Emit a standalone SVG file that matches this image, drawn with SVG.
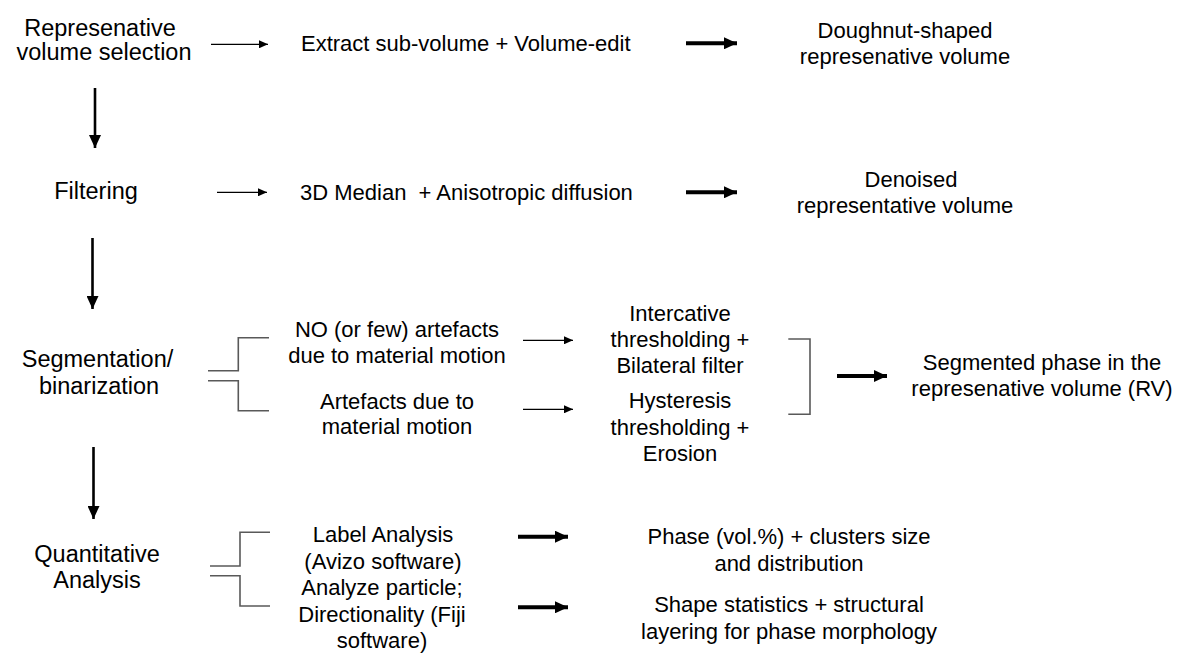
<svg xmlns="http://www.w3.org/2000/svg" width="1177" height="659" viewBox="0 0 1177 659">
<style>
text{font-family:"Liberation Sans",Arial,sans-serif;fill:#000;white-space:pre}
.l{font-size:23.5px;text-anchor:middle}
.t{font-size:22px;text-anchor:middle}
.s{font-size:22px}
.thin{stroke:#000;stroke-width:1.2;fill:none;marker-end:url(#hs)}
.thick{stroke:#000;stroke-width:4;fill:none;marker-end:url(#hb)}
.down{stroke:#000;stroke-width:2.6;fill:none;marker-end:url(#hd)}
.br{stroke:#595959;stroke-width:1.6;fill:none}
</style>
<defs>
<marker id="hs" markerUnits="userSpaceOnUse" markerWidth="10" markerHeight="8" refX="9" refY="4" orient="auto"><path d="M0,0 L9,4 L0,8 z" fill="#000"/></marker>
<marker id="hb" markerUnits="userSpaceOnUse" markerWidth="14" markerHeight="12" refX="13" refY="6" orient="auto"><path d="M0,0 L13,6 L0,12 z" fill="#000"/></marker>
<marker id="hd" markerUnits="userSpaceOnUse" markerWidth="14" markerHeight="12" refX="13" refY="6" orient="auto"><path d="M0,0 L13,6 L0,12 z" fill="#000"/></marker>
</defs>
<rect width="1177" height="659" fill="#fff"/>
<g id="step-rv"><text class="l" x="100" y="35.5">Represenative</text><text class="l" x="104" y="60">volume selection</text></g>
<g id="step-filter"><text class="l" x="96" y="199">Filtering</text></g>
<g id="step-seg"><text class="l" x="97.5" y="367">Segmentation/</text><text class="l" x="99" y="394">binarization</text></g>
<g id="step-quant"><text class="l" x="97" y="562">Quantitative</text><text class="l" x="97" y="588">Analysis</text></g>
<g id="extract"><text class="s" x="301" y="50.5">Extract sub-volume + Volume-edit</text></g>
<g id="doughnut"><text class="t" x="905" y="38">Doughnut-shaped</text><text class="t" x="905" y="64">represenative volume</text></g>
<g id="median"><text class="s" x="300" y="200">3D Median  + Anisotropic diffusion</text></g>
<g id="denoised"><text class="t" x="911" y="187">Denoised</text><text class="t" x="905" y="213">representative volume</text></g>
<g id="no-artefacts"><text class="t" x="397" y="337">NO (or few) artefacts</text><text class="t" x="397" y="363">due to material motion</text></g>
<g id="artefacts"><text class="t" x="397" y="408.5">Artefacts due to</text><text class="t" x="397" y="434">material motion</text></g>
<g id="interactive"><text class="t" x="680" y="321">Intercative</text><text class="t" x="680" y="347">thresholding +</text><text class="t" x="680" y="373">Bilateral filter</text></g>
<g id="hysteresis"><text class="t" x="680" y="408">Hysteresis</text><text class="t" x="680" y="434.5">thresholding +</text><text class="t" x="680" y="460.5">Erosion</text></g>
<g id="segmented"><text class="t" x="1042" y="369.5">Segmented phase in the</text><text class="t" x="1042" y="396">represenative volume (RV)</text></g>
<g id="label-analysis"><text class="t" x="383" y="542">Label Analysis</text><text class="t" x="383" y="569">(Avizo software)</text></g>
<g id="analyze-particle"><text class="t" x="382" y="595">Analyze particle;</text><text class="t" x="382" y="622">Directionality (Fiji</text><text class="t" x="382" y="648">software)</text></g>
<g id="phase"><text class="t" x="789" y="543.5">Phase (vol.%) + clusters size</text><text class="t" x="789" y="570.5">and distribution</text></g>
<g id="shape"><text class="t" x="789" y="612">Shape statistics + structural</text><text class="t" x="789" y="638.5">layering for phase morphology</text></g>
<g id="connectors">
<line class="down" x1="95" y1="88" x2="95" y2="148"/>
<line class="down" x1="92.5" y1="238" x2="92.5" y2="309"/>
<line class="down" x1="93.5" y1="447" x2="93.5" y2="519"/>
<line class="thin" x1="211" y1="44.3" x2="268" y2="44.3"/>
<line class="thin" x1="217" y1="192.3" x2="267" y2="192.3"/>
<line class="thin" x1="523" y1="340.3" x2="573" y2="340.3"/>
<line class="thin" x1="523" y1="409.3" x2="573" y2="409.3"/>
<line class="thick" x1="686" y1="43.3" x2="737" y2="43.3"/>
<line class="thick" x1="686" y1="192.3" x2="737" y2="192.3"/>
<line class="thick" x1="837" y1="376" x2="887" y2="376"/>
<line class="thick" x1="518" y1="536.7" x2="568" y2="536.7"/>
<line class="thick" x1="518" y1="607.3" x2="568" y2="607.3"/>
<path class="br" d="M208,370.7 H238.3 V337.7 H269 M208,380.7 H238.3 V410.7 H269"/>
<path class="br" d="M788.3,339 H810 V414.3 H788.3"/>
<path class="br" d="M210,566 H240 V532.3 H270 M210,575.7 H240 V606 H270"/>
</g>
</svg>
